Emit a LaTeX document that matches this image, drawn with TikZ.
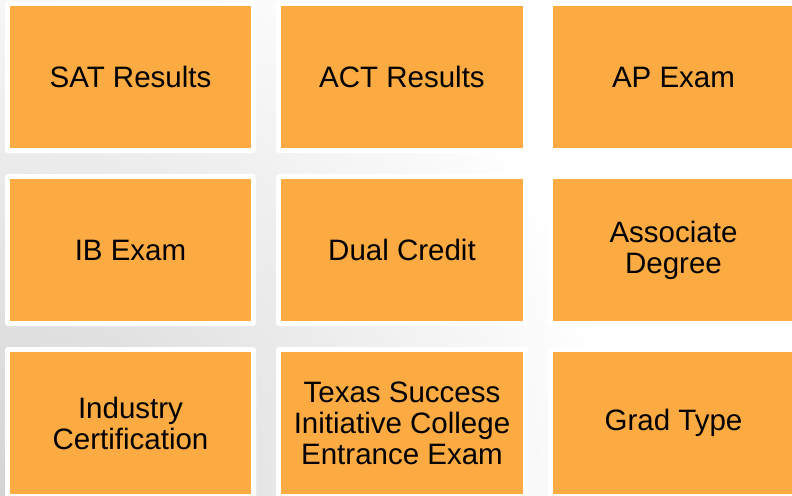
\documentclass[tikz,border=0pt]{standalone}
\usepackage{fontspec}
\setmainfont{Liberation Sans}
\usetikzlibrary{backgrounds}
\definecolor{boxorange}{RGB}{252,170,66}
\tikzset{
  tile/.style={fill=boxorange, draw=none, inner sep=0pt, outer sep=0pt,
    anchor=north west, align=center, text=black,
    font=\fontsize{29.5}{31}\selectfont},
  panel/.style={fill=white, rounded corners=3pt},
}
\begin{document}
\begin{tikzpicture}[x=1pt,y=1pt]
\useasboundingbox (0,-495) rectangle (792,0);
% tiles
\node[tile, minimum width=241, minimum height=142] (sat) at (10,-6) {SAT Results};
\node[tile, minimum width=242, minimum height=142] (act) at (281,-6) {ACT Results};
\node[tile, minimum width=241, minimum height=142] (ap) at (553,-6) {AP Exam};
\node[tile, minimum width=241, minimum height=142] (ib) at (10,-179) {IB Exam};
\node[tile, minimum width=242, minimum height=142] (dual) at (281,-179) {Dual Credit};
\node[tile, minimum width=241, minimum height=142] (assoc) at (553,-179) {Associate\\Degree};
\node[tile, minimum width=241, minimum height=142] (ind) at (10,-352) {Industry\\Certification};
\node[tile, minimum width=242, minimum height=142] (tsi) at (281,-352) {Texas Success\\Initiative College\\Entrance Exam};
\node[tile, minimum width=241, minimum height=142] (grad) at (553,-352) {Grad Type};
\begin{scope}[on background layer]
  \fill[white] (0,-495) rectangle (792,0);
  \begin{scope}
    \clip (0,-495) rectangle (792,0);
    \shade[inner color=black!17, outer color=white] (0,-495) circle (620);
  \end{scope}
  \foreach \n in {sat,act,ap,ib,dual,assoc,ind,tsi,grad}{
    \fill[panel] ([shift={(-5,5)}]\n.north west) rectangle ([shift={(5,-5)}]\n.south east);
  }
\end{scope}
\end{tikzpicture}
\end{document}
